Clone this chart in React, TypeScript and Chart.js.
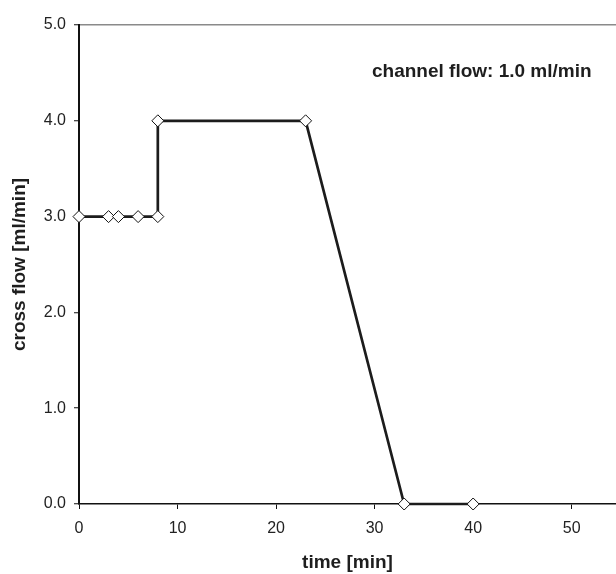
import React, { useEffect, useRef } from "react";
import { Chart, registerables } from "chart.js";

Chart.register(...registerables);

// Cross-flow program over time
const timeMin = [0, 3, 4, 6, 8, 8, 23, 33, 40];
const crossFlow = [3.0, 3.0, 3.0, 3.0, 3.0, 4.0, 4.0, 0.0, 0.0];

const xTicks = [0, 10, 20, 30, 40, 50];
const yTicks = [0, 1, 2, 3, 4, 5];

const xTitle = "time [min]";
const yTitle = "cross flow [ml/min]";
const noteText = "channel flow: 1.0 ml/min";

const FONT = "'Liberation Sans', Arial, Helvetica, sans-serif";

const notePlugin = {
  id: "channelNote",
  afterDraw(chart: any) {
    const ctx = chart.ctx;
    ctx.save();
    ctx.font = `bold 19px ${FONT}`;
    ctx.fillStyle = "#1e1e1e";
    ctx.textAlign = "left";
    ctx.textBaseline = "alphabetic";
    ctx.fillText(noteText, 372, 77);
    ctx.restore();
  },
};

export default function App() {
  const canvasRef = useRef<HTMLCanvasElement | null>(null);

  useEffect(() => {
    if (!canvasRef.current) return;
    const chart = new Chart(canvasRef.current, {
      type: "line",
      data: {
        datasets: [
          {
            data: timeMin.map((t, i) => ({ x: t, y: crossFlow[i] })),
            borderColor: "#1c1c1c",
            borderWidth: 2.7,
            tension: 0,
            fill: false,
            pointStyle: "rectRot",
            pointRadius: 6,
            pointHoverRadius: 6,
            pointBackgroundColor: "#ffffff",
            pointBorderColor: "#111111",
            pointBorderWidth: 1,
            clip: false,
          } as any,
        ],
      },
      options: {
        animation: false,
        responsive: false,
        maintainAspectRatio: false,
        events: [],
        layout: {
          autoPadding: false,
          padding: { top: 25, left: 0, right: 0, bottom: 0 },
        },
        plugins: {
          legend: { display: false },
          tooltip: { enabled: false },
          title: { display: false },
        },
        scales: {
          x: {
            type: "linear",
            min: 0,
            max: 54.5,
            afterFit(scale: any) {
              scale.height = 70;
              scale.paddingLeft = 0;
              scale.paddingRight = 0;
            },
            afterBuildTicks(scale: any) {
              scale.ticks = xTicks.map((v) => ({ value: v }));
            },
            border: { display: true, color: "#111111", width: 1.5 },
            grid: {
              drawOnChartArea: false,
              drawTicks: true,
              tickLength: 5,
              tickColor: "#111111",
              tickWidth: 1,
            },
            ticks: {
              color: "#222222",
              font: { family: FONT, size: 16 },
              padding: 10,
              maxRotation: 0,
              autoSkip: false,
              callback: (v: any) => String(v),
            },
            title: {
              display: true,
              text: xTitle,
              color: "#1e1e1e",
              font: { family: FONT, size: 19, weight: "bold" },
              padding: { top: 0, bottom: 0 },
            },
          },
          y: {
            type: "linear",
            min: 0,
            max: 5,
            afterFit(scale: any) {
              scale.width = 79;
            },
            afterBuildTicks(scale: any) {
              scale.ticks = yTicks.map((v) => ({ value: v }));
            },
            border: { display: true, color: "#111111", width: 2 },
            grid: {
              drawTicks: true,
              tickLength: 5,
              tickColor: "#111111",
              tickWidth: 1,
              lineWidth: 1.5,
              color: (c: any) =>
                c.tick && c.tick.value === 5 ? "#8a8a8a" : "rgba(0,0,0,0)",
            },
            ticks: {
              color: "#222222",
              font: { family: FONT, size: 16 },
              padding: 8,
              autoSkip: false,
              callback: (v: any) => Number(v).toFixed(1),
            },
            title: {
              display: true,
              text: yTitle,
              color: "#1e1e1e",
              font: { family: FONT, size: 19, weight: "bold" },
              padding: { top: 8, bottom: 0 },
            },
          },
        },
      },
      plugins: [notePlugin],
    });
    return () => chart.destroy();
  }, []);

  return (
    <div
      style={{
        position: "fixed",
        left: 0,
        top: 0,
        width: 616,
        height: 574,
        background: "#ffffff",
      }}
    >
      <canvas
        ref={canvasRef}
        width={616}
        height={574}
        style={{ width: 616, height: 574, display: "block" }}
      />
    </div>
  );
}
